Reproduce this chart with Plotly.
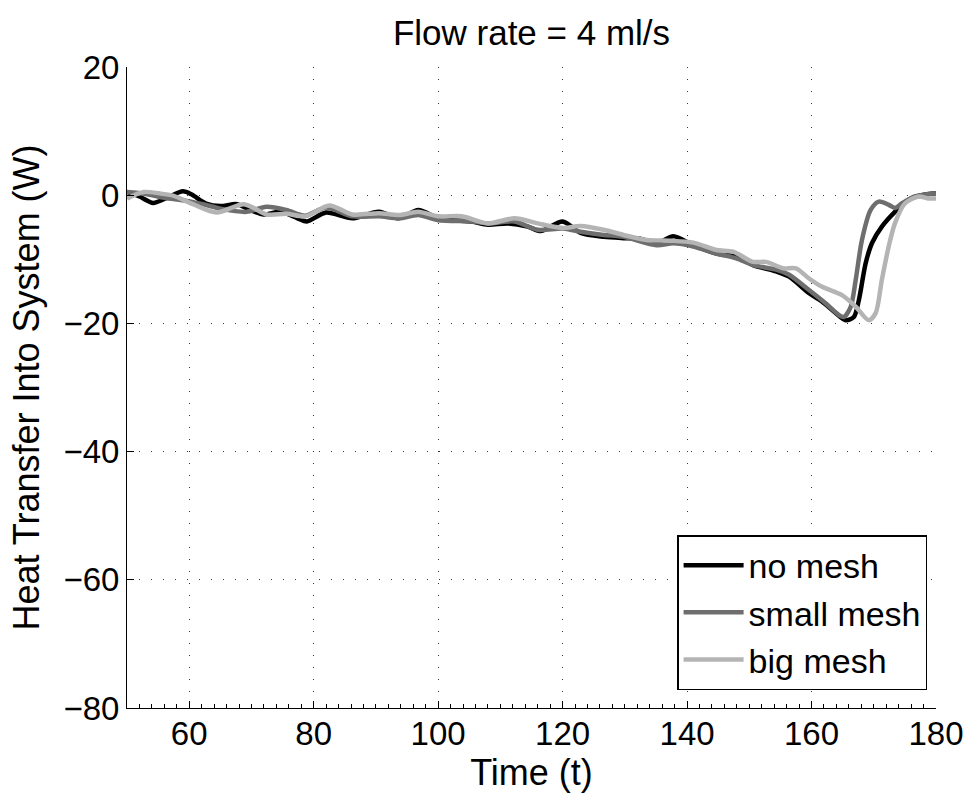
import plotly.graph_objects as go

# ---- data ----
x_no = [50, 52, 54.2, 56.2, 59, 60.4, 62.7, 65, 67.7, 70, 72, 74.7, 77.4, 78.9, 82, 86.2, 90.5,
        93.7, 96.8, 100, 102.2, 105.4, 108, 111.2, 114.4, 116.5, 120, 122.9, 126.6, 129.8, 132.5,
        135.1, 137.8, 141, 144.7, 147.9, 150.6, 154.3, 156.4, 159.6, 161.7, 163.9, 165.5, 166.8,
        167.6, 168.7, 169.7, 171.3, 173.4, 175.6, 177.7, 180]
y_no = [0.5, -0.2, -1.2, -0.5, 0.6, 0.1, -1.3, -1.7, -1.4, -2.4, -3.0, -2.6, -3.6, -4.1, -2.7, -3.6, -2.6,
        -3.6, -2.3, -3.6, -3.9, -4.1, -4.6, -4.4, -4.9, -5.6, -4.1, -5.9, -6.5, -6.7, -6.8,
        -7.5, -6.4, -7.8, -9.1, -9.6, -10.9, -11.9, -12.7, -15.3, -16.6, -18.4, -19.5, -19.0,
        -16.4, -10.6, -7.5, -4.9, -2.6, -0.7, 0.0, 0.3]

x_small = [50, 53, 56, 59.6, 63, 65, 69.2, 72.4, 75.6, 78.6, 82, 86.2, 90.5, 93.7, 96.8, 100,
           105.4, 108, 112.3, 116, 120, 122.9, 126.6, 129.8, 135.1, 137.8, 141, 144.7, 147.9,
           150.6, 154.3, 156.4, 159.6, 162.3, 164.4, 165.2, 166.3, 167.1, 168.1, 169.5, 170.8,
           172.4, 173.4, 174.5, 176.6, 180]
y_small = [0.5, 0.2, -0.4, -0.9, -1.6, -2.1, -2.6, -1.8, -2.3, -3.2, -1.9, -3.3, -3.3, -3.6, -3.1, -3.9,
           -4.1, -4.4, -4.1, -5.4, -5.2, -5.7, -6.2, -6.5, -7.8, -7.5, -8.0, -9.1, -9.85,
           -10.9, -11.6, -12.4, -14.8, -16.9, -18.7, -19.0, -17.4, -13.2, -7.0, -2.3, -1.0,
           -1.5, -2.0, -1.3, -0.2, 0.3]

x_big = [50, 52.7, 55.1, 57.5, 60.6, 64.4, 68.8, 72.5, 75.6, 78.7, 82.5, 86.2, 90.5, 93.7, 96.8,
         100, 103.8, 108, 112.3, 116, 120, 122.9, 126.6, 129.8, 133.5, 137.3, 141, 144.7, 147.4,
         150.6, 152.7, 155.4, 157.5, 159.6, 161.7, 164.9, 167.1, 169.2, 170.3, 171.3, 172.4,
         173.4, 175.0, 177.2, 178.8, 180]
y_big = [-0.5, 0.5, 0.3, -0.1, -1.4, -2.7, -1.4, -3.0, -2.9, -3.3, -1.6, -3.0, -2.8, -3.1, -2.6,
         -3.3, -3.3, -4.4, -3.6, -4.4, -5.1, -4.8, -5.4, -6.2, -7.0, -7.1, -7.4, -8.55, -8.8,
         -10.4, -10.4, -11.4, -11.4, -13.0, -14.3, -15.6, -17.4, -19.5, -18.4, -13.2, -8.0,
         -4.4, -1.3, -0.2, -0.5, -0.5]

x_ticks = [60, 80, 100, 120, 140, 160, 180]
y_ticks = [-80, -60, -40, -20, 0, 20]

series = [
    ("no mesh", x_no, y_no, "#000000"),
    ("small mesh", x_small, y_small, "#6e6e6e"),
    ("big mesh", x_big, y_big, "#b4b4b4"),
]

FONT = "Liberation Sans, Arial, Helvetica, sans-serif"

fig = go.Figure()
for name, xs, ys, col in series:
    fig.add_trace(go.Scatter(
        x=xs, y=ys, mode="lines", name=name,
        line=dict(color=col, width=4.5, shape="spline", smoothing=0.8),
    ))

fig.update_layout(
    width=976, height=795,
    margin=dict(l=127, r=35, t=67, b=87),
    paper_bgcolor="white", plot_bgcolor="white",
    font=dict(family=FONT, size=33, color="black"),
    title=dict(text="Flow rate = 4 ml/s", x=0.5, xref="paper", xanchor="center",
               y=1 - 33 / 795, yref="container", yanchor="middle",
               font=dict(family=FONT, size=35, color="black")),
    showlegend=True,
    legend=dict(x=0.989, y=0.028, xanchor="right", yanchor="bottom",
                bgcolor="white", bordercolor="black", borderwidth=1.5,
                font=dict(family=FONT, size=34, color="black"),
                tracegroupgap=0, itemwidth=60),
)

fig.update_xaxes(
    range=[50, 180], tickvals=x_ticks, ticktext=[str(v) for v in x_ticks],
    showline=True, linecolor="black", linewidth=1, mirror=False,
    ticks="inside", ticklen=7, tickcolor="black", tickwidth=1,
    tickfont=dict(family=FONT, size=33), ticklabelstandoff=-4,
    minor=dict(dtick=2, ticks="inside", ticklen=4, tickcolor="black", showgrid=False),
    showgrid=True, gridcolor="#333333", gridwidth=1, griddash="1px,11px",
    zeroline=False,
    title=dict(text="Time (t)", font=dict(family=FONT, size=36), standoff=0),
)
fig.update_yaxes(
    range=[-80, 20], tickvals=y_ticks, ticktext=["\u221280", "\u221260", "\u221240", "\u221220", "0", "20"],
    showline=True, linecolor="black", linewidth=1, mirror=False,
    ticks="inside", ticklen=7, tickcolor="black", tickwidth=1,
    tickfont=dict(family=FONT, size=33),
    showgrid=True, gridcolor="#333333", gridwidth=1, griddash="1px,11px",
    zeroline=False,
    title=dict(text="Heat Transfer Into System (W)", font=dict(family=FONT, size=36), standoff=12),
)

fig.write_html("out.html")
